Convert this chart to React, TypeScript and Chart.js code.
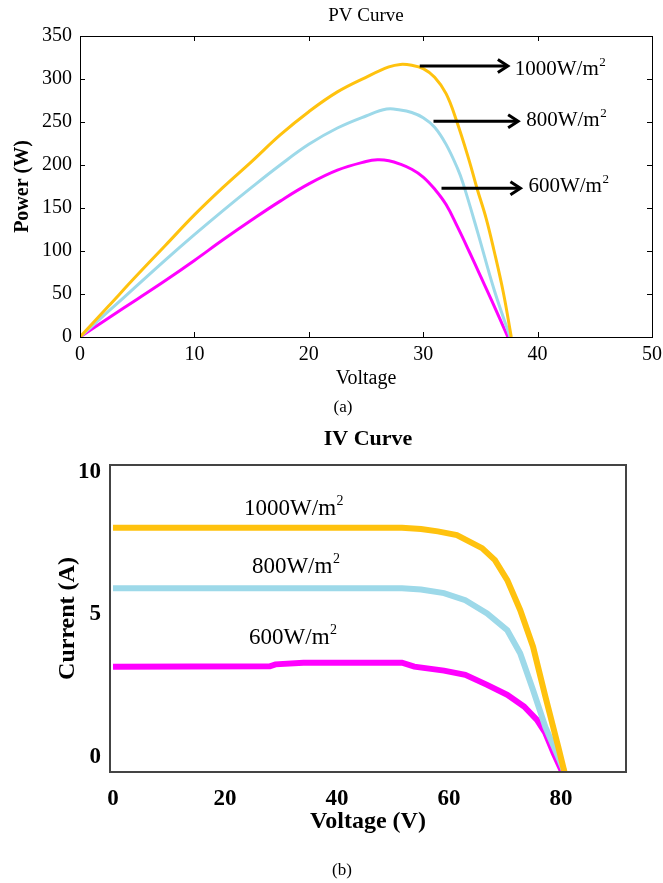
import React, { useEffect, useRef } from "react";
import { Chart, registerables } from "chart.js";
Chart.register(...registerables);

const SERIF = '"Liberation Serif", "Times New Roman", serif';

// ---------- PV curve data ----------
const pvV1000 = [0, 2.5, 5, 7.5, 10, 12.5, 15, 17.5, 20, 22.5, 25, 27, 28, 29, 30, 31, 32, 32.9, 34, 34.7, 35.5, 36.2, 37, 37.7];
const pvP1000 = [0, 36, 72, 107, 142, 174, 204, 235, 262, 285, 302, 314, 317, 316, 312, 302, 283, 252, 206, 173, 138, 100, 52, 0];
const pvV800 = [0, 2.5, 5, 7.5, 10, 12.5, 15, 17.5, 20, 22.5, 25, 26.8, 28, 29, 30, 31, 32, 33, 33.5, 34.8, 36.2, 37.6];
const pvP800 = [0, 30, 60, 90, 119, 147, 174, 200, 224, 243, 257, 265, 264, 261, 255, 244, 224, 196, 178, 120, 55, 0];
const pvV600 = [0, 2.5, 5, 7.5, 10, 12.5, 15, 17.5, 20, 22.5, 25, 26, 27, 28, 29, 30, 31, 32, 33, 34, 35, 36, 37.4];
const pvP600 = [0, 22, 44, 66, 89, 113, 136, 158, 178, 194, 204, 206, 205, 201, 195, 186, 172, 154, 128, 100, 71, 42, 0];
const pvXTicks = [0, 10, 20, 30, 40, 50];
const pvYTicks = [0, 50, 100, 150, 200, 250, 300, 350];

// ---------- IV curve data ----------
const ivV1000 = [0, 51.6, 55, 58, 61.4, 65.9, 68.2, 70.4, 72.7, 75, 77.2, 79.5, 80.6];
const ivI1000 = [8.05, 8.05, 8.0, 7.92, 7.79, 7.33, 6.91, 6.21, 5.16, 3.87, 2.12, 0.36, -0.52];
const ivV800 = [0, 51.6, 55, 59.1, 62.9, 66.8, 70.4, 72.7, 75, 77.2, 79.5, 80.6];
const ivI800 = [5.92, 5.92, 5.88, 5.75, 5.5, 5.04, 4.45, 3.64, 2.35, 1.05, 0, -0.52];
const ivV600 = [0, 28, 29, 34, 51.6, 53.8, 59.1, 62.9, 66.8, 70.4, 73.4, 75.7, 77.2, 78.7, 80.2];
const ivI600 = [3.17, 3.18, 3.25, 3.31, 3.31, 3.17, 3.03, 2.88, 2.53, 2.18, 1.77, 1.3, 0.84, 0.13, -0.52];
const ivXTicks = [0, 20, 40, 60, 80];
const ivYTicks = [0, 5, 10];

const seriesNames = ["1000W/m", "800W/m", "600W/m"];
const seriesColors = ["#FFC20E", "#9DD9E9", "#FF00FF"];

// annotation placement (data coordinates)
const pvNotes = [
  { ax1: 29.7, ax2: 37.4, ay: 315, tx: 38.0, ty: 304.7 },
  { ax1: 30.9, ax2: 38.3, ay: 251, tx: 39.0, ty: 245.3 },
  { ax1: 31.6, ax2: 38.5, ay: 173, tx: 39.2, ty: 168.6 },
];
const ivNotes = [
  { tx: 23.4, ty: 8.49 },
  { tx: 24.8, ty: 6.46 },
  { tx: 24.3, ty: 3.96 },
];

const zip = (xs: number[], ys: number[]) => xs.map((x, i) => ({ x, y: ys[i] }));

function drawNote(ctx: CanvasRenderingContext2D, x: number, y: number, text: string, size: number) {
  ctx.fillStyle = "#000";
  ctx.textAlign = "left";
  ctx.textBaseline = "alphabetic";
  ctx.font = `normal ${size}px ${SERIF}`;
  ctx.fillText(text, x, y);
  const w = ctx.measureText(text).width;
  ctx.font = `normal ${Math.round(size * 0.62)}px ${SERIF}`;
  ctx.fillText("2", x + w + 0.5, y - size * 0.43);
}

const framePlugin = {
  id: "frame",
  afterDatasetsDraw(chart: any, _args: any, opts: any) {
    const { ctx, chartArea: a, scales } = chart;
    ctx.save();
    ctx.strokeStyle = opts.color;
    ctx.lineWidth = opts.width;
    const o = opts.width % 2 === 1 ? 0.5 : 0;
    ctx.strokeRect(Math.round(a.left) + o, Math.round(a.top) + o, Math.round(a.right - a.left), Math.round(a.bottom - a.top));
    if (opts.tickLen) {
      const L = opts.tickLen;
      ctx.beginPath();
      scales.x.ticks.forEach((t: any) => {
        const px = Math.round(scales.x.getPixelForValue(t.value)) + 0.5;
        ctx.moveTo(px, a.bottom); ctx.lineTo(px, a.bottom - L);
        ctx.moveTo(px, a.top); ctx.lineTo(px, a.top + L);
      });
      scales.y.ticks.forEach((t: any) => {
        const py = Math.round(scales.y.getPixelForValue(t.value)) + 0.5;
        ctx.moveTo(a.left, py); ctx.lineTo(a.left + L, py);
        ctx.moveTo(a.right, py); ctx.lineTo(a.right - L, py);
      });
      ctx.stroke();
    }
    const notes = opts.notes || [];
    notes.forEach((n: any, i: number) => {
      const sx = scales.x, sy = scales.y;
      if (n.ax1 !== undefined) {
        const x1 = sx.getPixelForValue(n.ax1), x2 = sx.getPixelForValue(n.ax2), y = sy.getPixelForValue(n.ay);
        ctx.strokeStyle = "#000";
        ctx.lineWidth = 3;
        ctx.beginPath(); ctx.moveTo(x1, y); ctx.lineTo(x2 - 1, y); ctx.stroke();
        ctx.beginPath(); ctx.moveTo(x2 - 10, y - 6.5); ctx.lineTo(x2, y); ctx.lineTo(x2 - 10, y + 6.5); ctx.stroke();
      }
      drawNote(ctx, sx.getPixelForValue(n.tx), sy.getPixelForValue(n.ty), seriesNames[i], opts.noteSize);
    });
    ctx.restore();
  },
};

const fixTicks = (vals: number[]) => (scale: any) => {
  scale.ticks = vals.map((v) => ({ value: v }));
};

function PVChart() {
  const ref = useRef<HTMLCanvasElement>(null);
  useEffect(() => {
    const series = [
      zip(pvV1000, pvP1000),
      zip(pvV800, pvP800),
      zip(pvV600, pvP600),
    ];
    const chart = new Chart(ref.current!, {
      type: "line",
      data: {
        datasets: series.map((d, i) => ({
          label: seriesNames[i],
          data: d,
          borderColor: seriesColors[i],
          backgroundColor: seriesColors[i],
          borderWidth: 3,
          pointRadius: 0,
          tension: 0.4,
          fill: false,
        })),
      },
      options: {
        responsive: false,
        animation: false,
        devicePixelRatio: 1,
        layout: { padding: { left: 0, right: 11, top: 0, bottom: 0 } },
        plugins: {
          legend: { display: false },
          tooltip: { enabled: false },
          title: {
            display: true,
            text: "PV Curve",
            color: "#000",
            fullSize: false,
            font: { family: SERIF, size: 19, weight: "normal" },
            padding: { top: 5, bottom: 8.2 },
          },
          frame: { color: "#000", width: 1, tickLen: 5, notes: pvNotes, noteSize: 21 },
        } as any,
        scales: {
          x: {
            type: "linear",
            min: 0,
            max: 50,
            grid: { display: false, drawTicks: false },
            border: { display: false },
            afterBuildTicks: fixTicks(pvXTicks),
            afterFit: (s: any) => { s.height = 83; s.paddingLeft = 0; s.paddingRight = 0; },
            ticks: { color: "#000", font: { family: SERIF, size: 20 }, padding: 6, maxRotation: 0, autoSkip: false },
            title: { display: true, text: "Voltage", color: "#000", font: { family: SERIF, size: 20 }, padding: { top: 0, bottom: 29 } },
          },
          y: {
            type: "linear",
            min: 0,
            max: 350,
            grid: { display: false, drawTicks: false },
            border: { display: false },
            afterBuildTicks: fixTicks(pvYTicks),
            afterFit: (s: any) => { s.width = 80; s.paddingTop = 0; s.paddingBottom = 0; },
            ticks: { color: "#000", font: { family: SERIF, size: 20 }, padding: 8, autoSkip: false },
            title: { display: true, text: "Power (W)", color: "#000", font: { family: SERIF, size: 20, weight: "bold" }, padding: { top: 11, bottom: 0 } },
          },
        },
      },
      plugins: [framePlugin],
    });
    return () => chart.destroy();
  }, []);
  return <canvas ref={ref} width={663} height={420} style={{ position: "absolute", left: 0, top: 0 }} />;
}

function IVChart() {
  const ref = useRef<HTMLCanvasElement>(null);
  useEffect(() => {
    const series = [
      zip(ivV1000, ivI1000),
      zip(ivV800, ivI800),
      zip(ivV600, ivI600),
    ];
    const chart = new Chart(ref.current!, {
      type: "line",
      data: {
        datasets: series.map((d, i) => ({
          label: seriesNames[i],
          data: d,
          borderColor: seriesColors[i],
          backgroundColor: seriesColors[i],
          borderWidth: 6,
          pointRadius: 0,
          tension: 0,
          fill: false,
        })),
      },
      options: {
        responsive: false,
        animation: false,
        devicePixelRatio: 1,
        layout: { padding: { left: 0, right: 37, top: 0, bottom: 0 } },
        plugins: {
          legend: { display: false },
          tooltip: { enabled: false },
          title: {
            display: true,
            text: "IV Curve",
            color: "#000",
            fullSize: false,
            font: { family: SERIF, size: 22, weight: "bold" },
            padding: { top: 5.8, bottom: 12.8 },
          },
          frame: { color: "#444", width: 2, tickLen: 0, notes: ivNotes, noteSize: 23 },
        } as any,
        scales: {
          x: {
            type: "linear",
            min: -0.54,
            max: 91.6,
            grid: { display: false, drawTicks: false },
            border: { display: false },
            afterBuildTicks: fixTicks(ivXTicks),
            afterFit: (s: any) => { s.height = 111; s.paddingLeft = 0; s.paddingRight = 0; },
            ticks: { color: "#000", font: { family: SERIF, size: 23, weight: "bold" }, padding: 13.2, maxRotation: 0, autoSkip: false },
            title: { display: true, text: "Voltage (V)", color: "#000", font: { family: SERIF, size: 24, weight: "bold" }, padding: { top: 0, bottom: 46.6 } },
          },
          y: {
            type: "linear",
            min: -0.53,
            max: 10.25,
            grid: { display: false, drawTicks: false },
            border: { display: false },
            afterBuildTicks: fixTicks(ivYTicks),
            afterFit: (s: any) => { s.width = 110; s.paddingTop = 0; s.paddingBottom = 0; },
            ticks: { color: "#000", font: { family: SERIF, size: 23, weight: "bold" }, padding: 9, autoSkip: false },
            title: { display: true, text: "Current (A)", color: "#000", font: { family: SERIF, size: 24, weight: "bold" }, padding: { top: 53.6, bottom: 0 } },
          },
        },
      },
      plugins: [framePlugin],
    });
    return () => chart.destroy();
  }, []);
  return <canvas ref={ref} width={663} height={463} style={{ position: "absolute", left: 0, top: 420 }} />;
}

const captionStyle = (cx: number, cy: number): React.CSSProperties => ({
  position: "absolute",
  left: cx,
  top: cy,
  transform: "translate(-50%, -50%)",
  fontFamily: SERIF,
  fontSize: 17,
  color: "#000",
  whiteSpace: "nowrap",
});

export default function App() {
  return (
    <div style={{ position: "absolute", left: 0, top: 0, width: 663, height: 883, background: "#fff", overflow: "hidden" }}>
      <PVChart />
      <IVChart />
      <div style={captionStyle(343, 407)}>(a)</div>
      <div style={captionStyle(342, 870)}>(b)</div>
    </div>
  );
}
